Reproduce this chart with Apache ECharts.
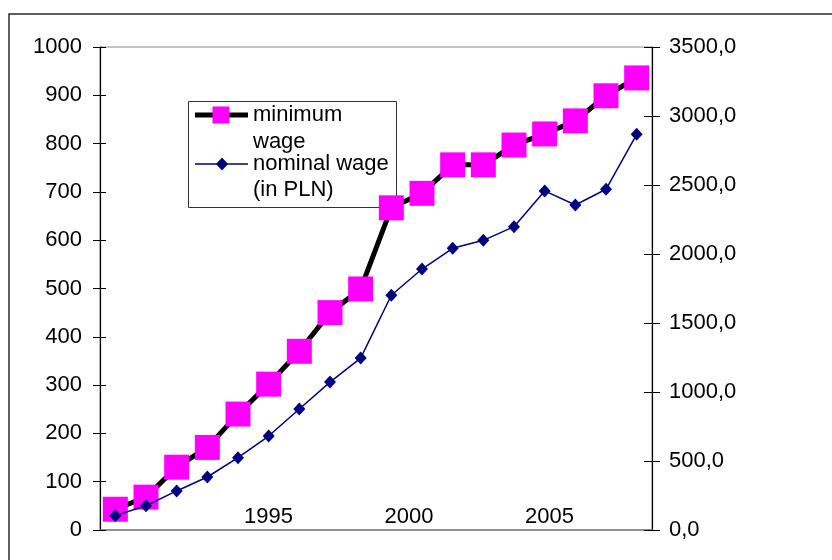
<!DOCTYPE html>
<html>
<head>
<meta charset="utf-8">
<script src="https://cdn.jsdelivr.net/npm/echarts@6.0.0/dist/echarts.min.js"></script>
<style>
html,body{margin:0;padding:0;background:#fff;}
#chart{width:832px;height:560px;}
</style>
</head>
<body>
<div id="chart"></div>
<script>
var years = ['1990','1991','1992','1993','1994','1995','1996','1997','1998','1999','2000','2001','2002','2003','2004','2005','2006','2007'];
var minimumWage = [43, 68, 130, 171, 240, 302, 370, 450, 499, 667, 697, 756, 756, 797, 820, 847, 899, 936];
var nominalWage = [104, 176, 283, 384, 524, 681, 877, 1072, 1246, 1701, 1891, 2041, 2099, 2198, 2457, 2355, 2469, 2867];
var yearTickLabels = [1995, 2000, 2005];
var seriesNames = ['minimum wage', 'nominal wage (in PLN)'];

var FONT = '"Liberation Sans", Arial, Helvetica, sans-serif';
var FS = 22;
var chart = echarts.init(document.getElementById('chart'), null, {renderer: 'canvas'});

var option = {
  animation: false,
  backgroundColor: '#fff',
  textStyle: {fontFamily: FONT},
  grid: {left: 100, right: 180, top: 47, bottom: 30, show: true, borderColor: '#8c8c8c', borderWidth: 1, backgroundColor: 'transparent'},
  xAxis: [
    {
      type: 'category', data: years, boundaryGap: true, position: 'bottom',
      axisLine: {show: true, lineStyle: {color: '#808080', width: 1.5}},
      axisTick: {show: false}, axisLabel: {show: false}, splitLine: {show: false}
    },
    {
      type: 'value', min: 1989, max: 2008.65, position: 'bottom',
      axisLine: {show: false}, axisTick: {show: false}, splitLine: {show: false},
      axisLabel: {
        show: true, inside: true, margin: 2, color: '#000', fontSize: FS, fontFamily: FONT,
        customValues: yearTickLabels,
        formatter: function (v) { return String(v); }
      }
    }
  ],
  yAxis: [
    {
      type: 'value', position: 'left', min: 0, max: 1000, interval: 100,
      axisLine: {show: true, lineStyle: {color: '#000', width: 1.2}},
      axisTick: {show: true, inside: false, length: 7, lineStyle: {color: '#000', width: 1}},
      axisLabel: {color: '#000', fontSize: FS, fontFamily: FONT, margin: 18,
        formatter: function (v) { return String(v); }},
      splitLine: {show: false}
    },
    {
      type: 'value', position: 'right', min: 0, max: 3500, interval: 500,
      axisLine: {show: true, lineStyle: {color: '#000', width: 1.2}},
      axisTick: {show: true, inside: false, length: 8, lineStyle: {color: '#000', width: 1}},
      axisLabel: {color: '#000', fontSize: FS, fontFamily: FONT, margin: 17,
        formatter: function (v) { return v.toFixed(1).replace('.', ','); }},
      splitLine: {show: false}
    },
    {
      type: 'value', position: 'left', min: 0, max: 1000, interval: 100,
      axisLine: {show: false},
      axisTick: {show: true, inside: true, length: 6, lineStyle: {color: '#000', width: 1}},
      axisLabel: {show: false}, splitLine: {show: false}
    },
    {
      type: 'value', position: 'right', min: 0, max: 3500, interval: 500,
      axisLine: {show: false},
      axisTick: {show: true, inside: true, length: 8, lineStyle: {color: '#000', width: 1}},
      axisLabel: {show: false}, splitLine: {show: false}
    }
  ],
  series: [
    {
      name: seriesNames[0], type: 'line', xAxisIndex: 0, yAxisIndex: 0,
      data: minimumWage,
      showSymbol: true, showAllSymbol: true,
      symbol: 'rect', symbolSize: 25,
      itemStyle: {color: '#FF00FF'},
      lineStyle: {color: '#000', width: 5},
      z: 3
    },
    {
      name: seriesNames[1], type: 'line', xAxisIndex: 0, yAxisIndex: 1,
      data: nominalWage,
      showSymbol: true, showAllSymbol: true,
      symbol: 'diamond', symbolSize: [12, 13],
      itemStyle: {color: '#000080'},
      lineStyle: {color: '#000080', width: 1.5},
      z: 4
    }
  ],
  graphic: [
    {type: 'rect', z: -10, silent: true, shape: {x: 9, y: 14, width: 900, height: 700},
     style: {fill: 'none', stroke: '#2a2a2a', lineWidth: 1.5}},
    {type: 'rect', z: 1, silent: true, shape: {x: 188.5, y: 101.5, width: 208, height: 106},
     style: {fill: '#fff', stroke: '#333', lineWidth: 1}},
    {type: 'line', z: 1, silent: true, shape: {x1: 195, y1: 115, x2: 248, y2: 115},
     style: {stroke: '#000', lineWidth: 5}},
    {type: 'rect', z: 1, silent: true, shape: {x: 212.5, y: 106.5, width: 17, height: 17},
     style: {fill: '#FF00FF'}},
    {type: 'text', z: 1, silent: true, x: 253, y: 115,
     style: {text: 'minimum', fill: '#000', font: FS + 'px ' + FONT, verticalAlign: 'middle'}},
    {type: 'text', z: 1, silent: true, x: 253, y: 142,
     style: {text: 'wage', fill: '#000', font: FS + 'px ' + FONT, verticalAlign: 'middle'}},
    {type: 'line', z: 1, silent: true, shape: {x1: 195, y1: 164, x2: 248, y2: 164},
     style: {stroke: '#000080', lineWidth: 1.5}},
    {type: 'polygon', z: 1, silent: true, shape: {points: [[222, 157.5], [228, 164], [222, 170.5], [216, 164]]},
     style: {fill: '#000080'}},
    {type: 'text', z: 1, silent: true, x: 253, y: 164,
     style: {text: 'nominal wage', fill: '#000', font: FS + 'px ' + FONT, verticalAlign: 'middle'}},
    {type: 'text', z: 1, silent: true, x: 253, y: 190,
     style: {text: '(in PLN)', fill: '#000', font: FS + 'px ' + FONT, verticalAlign: 'middle'}}
  ]
};
chart.setOption(option);
</script>
</body>
</html>
